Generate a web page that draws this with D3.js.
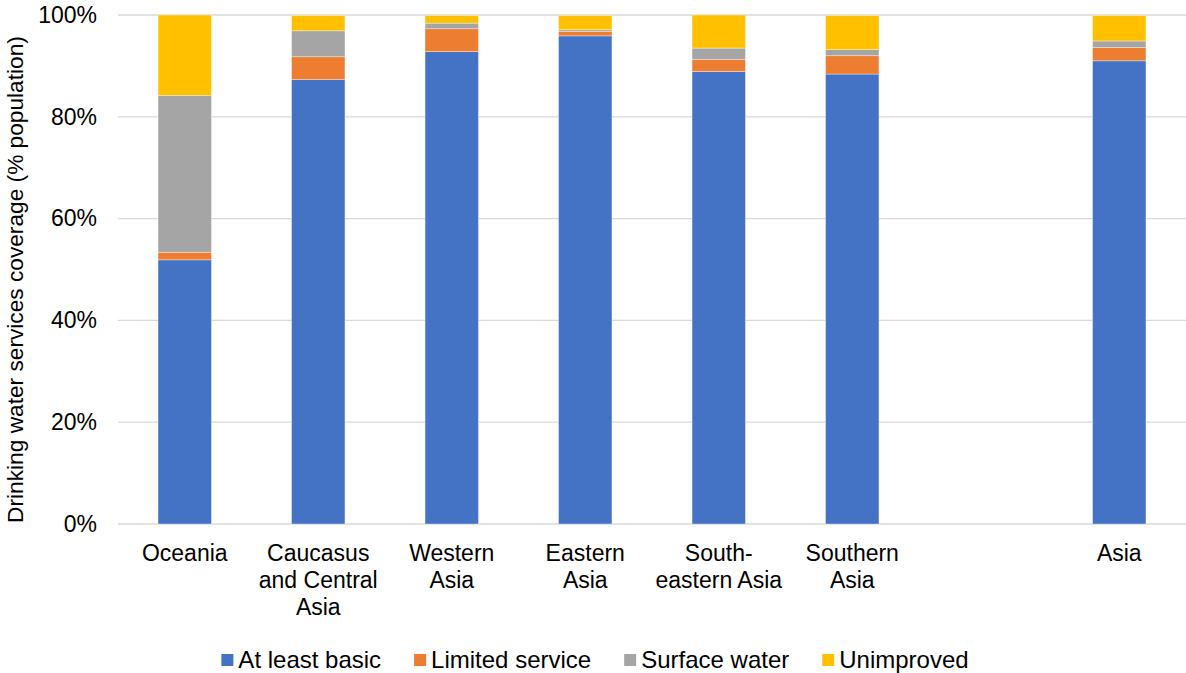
<!DOCTYPE html>
<html>
<head>
<meta charset="utf-8">
<script src="https://cdn.jsdelivr.net/npm/d3@7/dist/d3.min.js"></script>
<style>
  html, body { margin: 0; padding: 0; background: #fff; }
  svg { display: block; font-family: "Liberation Sans", Arial, sans-serif; }
</style>
</head>
<body>
<svg id="chart" width="1186" height="673"></svg>
<script>
// Regions (the blank slot separates the sub-regions from the Asia total)
const categories = ["Oceania", "Caucasus and Central Asia", "Western Asia", "Eastern Asia",
                    "South-eastern Asia", "Southern Asia", "", "Asia"];
const categoryLabels = [["Oceania"], ["Caucasus", "and Central", "Asia"], ["Western", "Asia"],
                        ["Eastern", "Asia"], ["South-", "eastern Asia"], ["Southern", "Asia"], [], ["Asia"]];

// Share of population by service level (%)
const atLeastBasic   = [51.9, 87.3, 92.8, 95.9, 88.9, 88.4, null, 91.0];
const limitedService = [1.5, 4.5, 4.5, 0.9, 2.4, 3.6, null, 2.6];
const surfaceWater   = [30.8, 5.1, 1.1, 0.3, 2.2, 1.2, null, 1.3];
const unimproved     = [15.8, 3.0, 1.5, 2.8, 6.5, 6.7, null, 5.0];

const seriesNames  = ["At least basic", "Limited service", "Surface water", "Unimproved"];
const seriesValues = [atLeastBasic, limitedService, surfaceWater, unimproved];
const seriesColors = ["#4472c4", "#ed7d31", "#a5a5a5", "#ffc000"];

const yTicks = [0, 20, 40, 60, 80, 100];
const yTitle = "Drinking water services coverage (% population)";

const svg = d3.select("#chart");
const plot = { left: 118, right: 1186, top: 15, bottom: 524 };
const fontSize = 23;
const legendFontSize = 24;

const x = d3.scaleBand()
  .domain(d3.range(categories.length))
  .range([plot.left, plot.right])
  .paddingInner(0.6)
  .paddingOuter(0.3);

const y = d3.scaleLinear().domain([0, 100]).range([plot.bottom, plot.top]);

// Horizontal gridlines
svg.append("g")
  .selectAll("line")
  .data(yTicks)
  .join("line")
  .attr("x1", plot.left).attr("x2", plot.right)
  .attr("y1", d => y(d)).attr("y2", d => y(d))
  .attr("stroke", "#d9d9d9").attr("stroke-width", 1.3);

// Y tick labels
const yAxis = d3.axisLeft(y).tickValues(yTicks).tickFormat(d => d + "%").tickSize(0).tickPadding(0);
const yG = svg.append("g").attr("transform", "translate(97,0)").call(yAxis);
yG.select(".domain").remove();
yG.selectAll("text")
  .attr("font-size", fontSize)
  .attr("font-family", "Liberation Sans, Arial, sans-serif")
  .attr("fill", "#000");

// Y axis title
svg.append("text")
  .attr("transform", `translate(23, ${(plot.top + plot.bottom) / 2 + 10}) rotate(-90)`)
  .attr("text-anchor", "middle")
  .attr("font-size", 22.7)
  .attr("fill", "#000")
  .text(yTitle);

// Stacked bars
const rows = categories.map((c, i) => {
  const r = { idx: i };
  seriesNames.forEach((s, k) => { r[s] = seriesValues[k][i]; });
  return r;
}).filter(r => r[seriesNames[0]] != null);

const stacked = d3.stack().keys(seriesNames)(rows);

svg.append("g")
  .selectAll("g")
  .data(stacked)
  .join("g")
  .attr("fill", (d, k) => seriesColors[k])
  .selectAll("rect")
  .data(d => d)
  .join("rect")
  .attr("x", d => x(d.data.idx))
  .attr("width", x.bandwidth())
  .attr("y", d => y(d[1]))
  .attr("height", d => y(d[0]) - y(d[1]))
  .attr("stroke", "#ffffff")
  .attr("stroke-opacity", 0.5)
  .attr("stroke-width", 0.7);

// Category labels
const xLabels = svg.append("g");
categoryLabels.forEach((lines, i) => {
  const t = xLabels.append("text")
    .attr("x", x(i) + x.bandwidth() / 2)
    .attr("y", 561)
    .attr("text-anchor", "middle")
    .attr("font-size", fontSize)
    .attr("fill", "#000");
  lines.forEach((ln, j) => {
    t.append("tspan")
      .attr("x", x(i) + x.bandwidth() / 2)
      .attr("dy", j === 0 ? 0 : 27)
      .text(ln);
  });
});

// Legend
const legend = svg.append("g");
const items = legend.selectAll("g").data(seriesNames).join("g");
items.append("rect")
  .attr("width", 12).attr("height", 12)
  .attr("y", 654)
  .attr("fill", (d, k) => seriesColors[k]);
items.append("text")
  .attr("x", 17).attr("y", 668)
  .attr("font-size", legendFontSize)
  .attr("fill", "#000")
  .text(d => d);
const widths = [];
items.each(function () {
  widths.push(d3.select(this).select("text").node().getComputedTextLength() + 17);
});
const gap = 33;
const total = d3.sum(widths) + gap * (widths.length - 1);
let start = 595 - total / 2;
items.attr("transform", (d, k) => {
  const tx = start;
  start += widths[k] + gap;
  return `translate(${tx},0)`;
});
</script>
</body>
</html>
